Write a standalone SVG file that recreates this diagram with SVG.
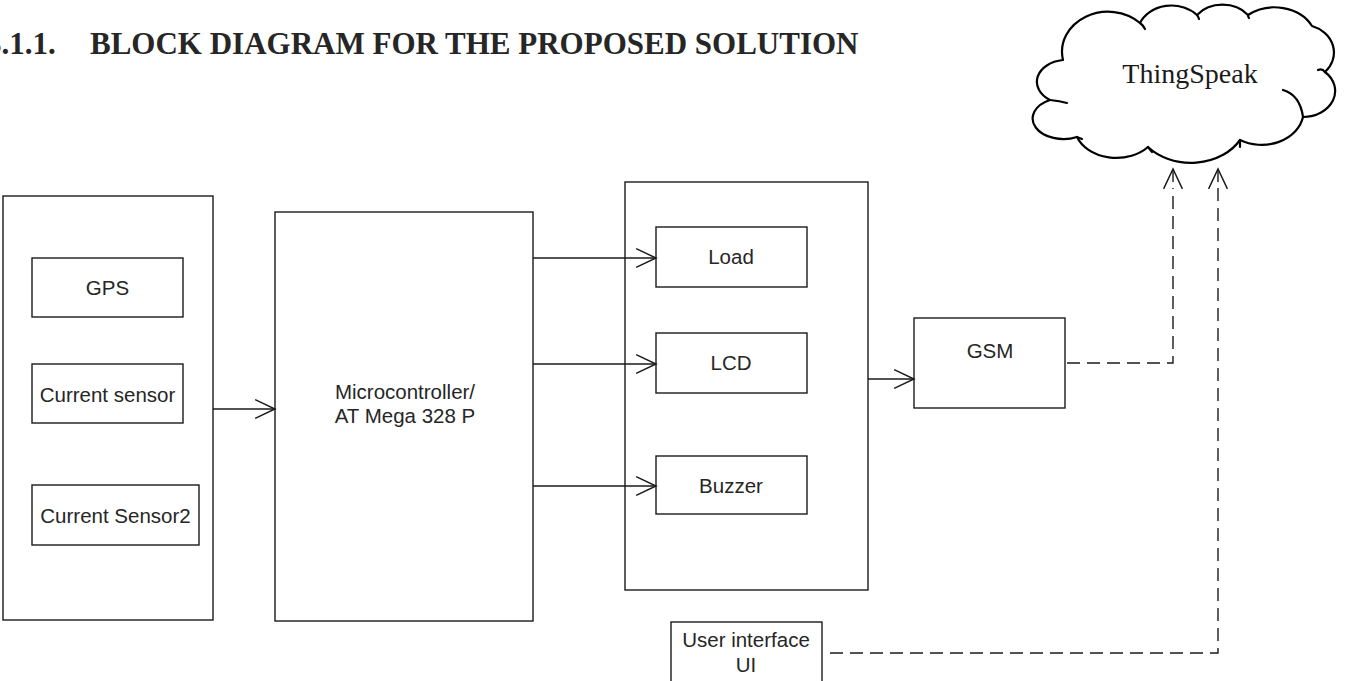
<svg xmlns="http://www.w3.org/2000/svg" width="1348" height="681" viewBox="0 0 1348 681">
  <style>
    .box { fill: #fff; stroke: #1a1a1a; stroke-width: 1.4; }
    .lbl { font-family: "Liberation Sans", Arial, sans-serif; font-size: 20.5px; fill: #262626; text-anchor: middle; }
    .ttl { font-family: "Liberation Serif", "Times New Roman", serif; font-size: 31px; font-weight: bold; fill: #262626; }
    .conn { fill: none; stroke: #1a1a1a; stroke-width: 1.4; }
    .dash { stroke-dasharray: 13 7; }
    .cloud { fill: #fff; stroke: #000; stroke-width: 2.2; stroke-linejoin: round; }
    .hook { fill: none; stroke: #000; stroke-width: 2.2; stroke-linecap: round; }
  </style>
  <defs>
    <marker id="open" markerUnits="userSpaceOnUse" markerWidth="24" markerHeight="24" viewBox="-21 -11 23 22" refX="0" refY="0" orient="auto">
      <path d="M -19 -9 L 0 0 L -19 9" fill="none" stroke="#1a1a1a" stroke-width="1.4"/>
    </marker>
  </defs>

  <rect width="1348" height="681" fill="#fff"/>

  <g id="title">
    <text class="ttl" x="-14" y="54">3.1.1.</text>
    <text class="ttl" x="90" y="54">BLOCK DIAGRAM FOR THE PROPOSED SOLUTION</text>
  </g>

  <g id="thingspeak">
    <path class="cloud" d="M 1063 60
      A 46 40 0 0 1 1140 23
      A 34 28 0 0 1 1197 15
      A 32 26 0 0 1 1248 15
      A 42 34 0 0 1 1312 26
      A 32 28 0 0 1 1325 72
      A 32 26 0 0 1 1303 117
      A 42 34 0 0 1 1240 140
      A 56 44 0 0 1 1148 147
      A 42 32 0 0 1 1077 137
      A 30 20 0 0 1 1050 100
      A 30 22 0 0 1 1063 60 Z"/>
    <path class="hook" d="M 1050 100 Q 1060 101 1067 103"/>
    <path class="hook" d="M 1077 137 Q 1079 138 1082 139"/>
    <path class="hook" d="M 1140 23 Q 1143 25 1145 29"/>
    <path class="hook" d="M 1197 15 Q 1198 16 1199 19"/>
    <path class="hook" d="M 1248 15 Q 1248 17 1249 18"/>
    <path class="hook" d="M 1325 72 Q 1322 68 1318 70"/>
    <path class="hook" d="M 1283 90 Q 1300 95 1303 117"/>
    <path class="hook" d="M 1148 147 Q 1150 150 1152 152"/>
    <path class="hook" d="M 1240 140 Q 1240 143 1240 147"/>
    <text x="1190" y="83" font-family="'Liberation Serif', 'Times New Roman', serif" font-size="28" fill="#1a1a1a" text-anchor="middle">ThingSpeak</text>
  </g>

  <g id="inputs">
    <rect class="box" x="3" y="196" width="210" height="424"/>
  </g>
  <g id="gps">
    <rect class="box" x="32" y="258" width="151" height="59"/>
    <text class="lbl" x="107.5" y="295">GPS</text>
  </g>
  <g id="current-sensor">
    <rect class="box" x="32" y="364" width="151" height="59"/>
    <text class="lbl" x="107.5" y="402">Current sensor</text>
  </g>
  <g id="current-sensor2">
    <rect class="box" x="32" y="485" width="167" height="60"/>
    <text class="lbl" x="115.5" y="523">Current Sensor2</text>
  </g>

  <g id="microcontroller">
    <rect class="box" x="275" y="212" width="258" height="409"/>
    <text class="lbl" x="405" y="399">Microcontroller/</text>
    <text class="lbl" x="405" y="423">AT Mega 328 P</text>
  </g>

  <g id="outputs">
    <rect class="box" x="625" y="182" width="243" height="408"/>
  </g>
  <g id="load">
    <rect class="box" x="656" y="227" width="151" height="60"/>
    <text class="lbl" x="731" y="264">Load</text>
  </g>
  <g id="lcd">
    <rect class="box" x="656" y="333" width="151" height="60"/>
    <text class="lbl" x="731" y="370">LCD</text>
  </g>
  <g id="buzzer">
    <rect class="box" x="656" y="456" width="151" height="58"/>
    <text class="lbl" x="731" y="493">Buzzer</text>
  </g>

  <g id="gsm">
    <rect class="box" x="914" y="318" width="151" height="90"/>
    <text class="lbl" x="990" y="358">GSM</text>
  </g>

  <g id="user-interface">
    <rect class="box" x="671" y="622" width="151" height="70"/>
    <text class="lbl" x="746" y="647">User interface</text>
    <text class="lbl" x="746" y="672">UI</text>
  </g>

  <g id="connectors">
    <path class="conn" d="M 213 409 L 275 409" marker-end="url(#open)"/>
    <path class="conn" d="M 533 258 L 656 258" marker-end="url(#open)"/>
    <path class="conn" d="M 533 364 L 656 364" marker-end="url(#open)"/>
    <path class="conn" d="M 533 486 L 656 486" marker-end="url(#open)"/>
    <path class="conn" d="M 868 379 L 914 379" marker-end="url(#open)"/>
    <path class="conn dash" d="M 1067 363 L 1173 363 L 1173 188"/>
    <path class="conn" d="M 1173 188 L 1173 169" marker-end="url(#open)" stroke-dasharray="0 6 13"/>
    <path class="conn dash" d="M 830 653 L 1218 653 L 1218 188"/>
    <path class="conn" d="M 1218 188 L 1218 169" marker-end="url(#open)" stroke-dasharray="0 6 13"/>
  </g>
</svg>
